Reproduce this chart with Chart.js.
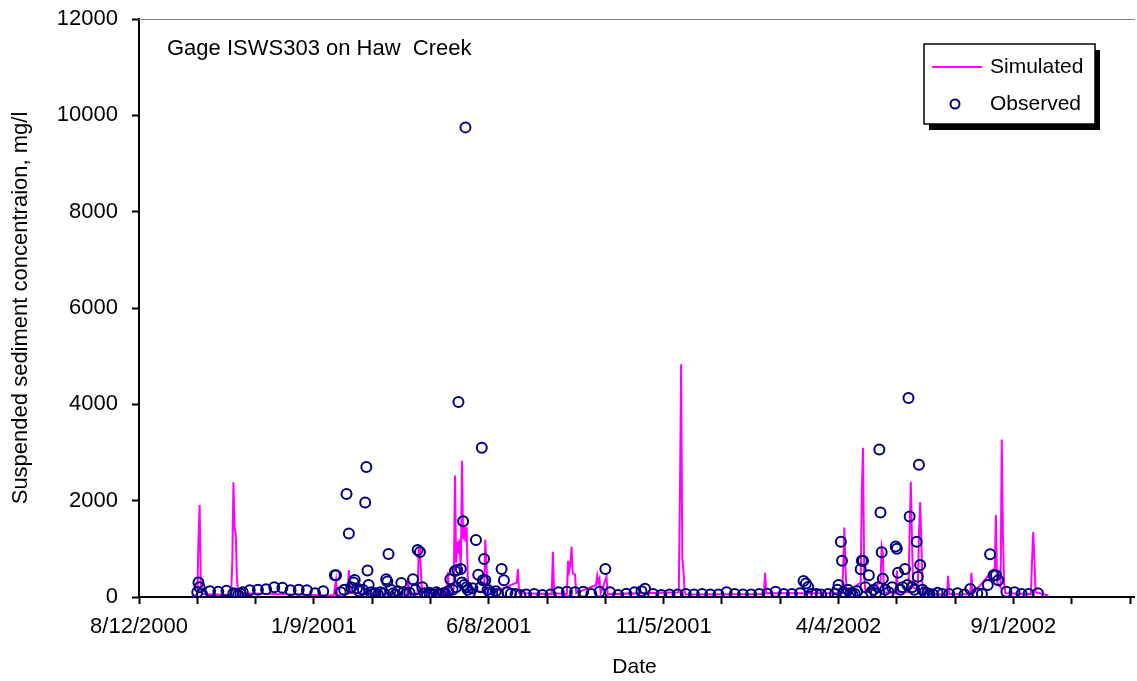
<!DOCTYPE html>
<html>
<head>
<meta charset="utf-8">
<script src="https://cdn.jsdelivr.net/npm/chart.js@4.4.0/dist/chart.umd.min.js"></script>
<style>
  html, body { margin: 0; padding: 0; background: #fff; }
  #wrap { width: 1137px; height: 681px; position: relative; }
</style>
</head>
<body>
<div id="wrap"><canvas id="chart"></canvas></div>
<script>
// axis starts 8/12/2000, ticks every 50 days, labels every 150
const axisStart = "2000-08-12";
const axisDays = 850;

const simDates = [
  "2000-09-27", "2000-10-01", "2000-10-02", "2000-10-03", "2000-10-04", "2000-10-05",
  "2000-10-30", "2000-10-31", "2000-11-01", "2000-11-02", "2000-11-03", "2000-11-04", "2000-11-05",
  "2001-01-26", "2001-01-28", "2001-01-29", "2001-02-07", "2001-02-08", "2001-02-09",
  "2001-03-30", "2001-03-31", "2001-04-01", "2001-04-08", "2001-04-09", "2001-04-10", "2001-04-11", "2001-04-12",
  "2001-05-03", "2001-05-04", "2001-05-05", "2001-05-08", "2001-05-09", "2001-05-10", "2001-05-11",
  "2001-05-12", "2001-05-13", "2001-05-14", "2001-05-15", "2001-05-16", "2001-05-17", "2001-05-18",
  "2001-05-19", "2001-05-20", "2001-05-21", "2001-05-22",
  "2001-06-04", "2001-06-05", "2001-06-06", "2001-06-07", "2001-06-08",
  "2001-07-02", "2001-07-03", "2001-07-04", "2001-08-01", "2001-08-02", "2001-08-03",
  "2001-08-14", "2001-08-15", "2001-08-16", "2001-08-17", "2001-08-18", "2001-08-19", "2001-08-20",
  "2001-08-21", "2001-08-22",
  "2001-09-08", "2001-09-09", "2001-09-10", "2001-09-11", "2001-09-12", "2001-09-16", "2001-09-17", "2001-09-18",
  "2001-11-18", "2001-11-19", "2001-11-20", "2001-11-21", "2001-11-22", "2001-11-23", "2001-11-24",
  "2002-01-30", "2002-01-31", "2002-02-01",
  "2002-04-07", "2002-04-08", "2002-04-09", "2002-04-10", "2002-04-11",
  "2002-04-23", "2002-04-24", "2002-04-25", "2002-04-26", "2002-04-27",
  "2002-05-10", "2002-05-11", "2002-05-12", "2002-05-13", "2002-05-23", "2002-05-24", "2002-05-25",
  "2002-06-03", "2002-06-04", "2002-06-05", "2002-06-06", "2002-06-07",
  "2002-06-11", "2002-06-12", "2002-06-13", "2002-06-14", "2002-06-15", "2002-06-16",
  "2002-07-06", "2002-07-07", "2002-07-08", "2002-07-26", "2002-07-27", "2002-07-28",
  "2002-08-16", "2002-08-17", "2002-08-18", "2002-08-21", "2002-08-22", "2002-08-23", "2002-08-24", "2002-08-25",
  "2002-09-16", "2002-09-17", "2002-09-18", "2002-09-19", "2002-09-20", "2002-10-01"
];
const simValues = [
  20, 50, 1150, 1910, 300, 60,
  40, 700, 2380, 1450, 1300, 400, 80,
  30, 350, 40, 60, 560, 80,
  40, 400, 60, 80, 1040, 1000, 400, 100,
  50, 520, 60, 60, 200, 2520, 700,
  1150, 900, 1200, 500, 2830, 1200, 1500,
  1150, 1450, 400, 150,
  100, 1190, 700, 150, 60,
  300, 580, 80, 60, 940, 80,
  60, 750, 550, 700, 1040, 500, 480,
  460, 80,
  250, 440, 300, 380, 80, 350, 420, 60,
  100, 2200, 4830, 800, 550, 100, 50,
  60, 500, 80,
  80, 600, 1440, 600, 100,
  300, 2200, 3100, 500, 100,
  300, 1040, 900, 100, 80, 550, 100,
  100, 1400, 2390, 1200, 200,
  150, 1300, 1970, 1200, 200, 60,
  50, 440, 60, 50, 500, 60,
  600, 1700, 300, 200, 3270, 1330, 300, 80,
  60, 770, 1350, 800, 100, 30
];

const obsDates = [
  "2000-10-01", "2000-10-02", "2000-10-03", "2000-10-05", "2000-10-12", "2000-10-19", "2000-10-26",
  "2000-11-01", "2000-11-03", "2000-11-05", "2000-11-07", "2000-11-09", "2000-11-15", "2000-11-22", "2000-11-29",
  "2000-12-06", "2000-12-13", "2000-12-20", "2000-12-27",
  "2001-01-03", "2001-01-10", "2001-01-17", "2001-01-27", "2001-01-28",
  "2001-02-01", "2001-02-04", "2001-02-06", "2001-02-08", "2001-02-10", "2001-02-12", "2001-02-13",
  "2001-02-15", "2001-02-17", "2001-02-20", "2001-02-22", "2001-02-23", "2001-02-24", "2001-02-25", "2001-02-27",
  "2001-03-01", "2001-03-03", "2001-03-05", "2001-03-07", "2001-03-10", "2001-03-12", "2001-03-13", "2001-03-14",
  "2001-03-16", "2001-03-18", "2001-03-20", "2001-03-22", "2001-03-25", "2001-03-27", "2001-03-29",
  "2001-04-01", "2001-04-04", "2001-04-06", "2001-04-08", "2001-04-10", "2001-04-12", "2001-04-14", "2001-04-16",
  "2001-04-18", "2001-04-20", "2001-04-22", "2001-04-24", "2001-04-26", "2001-04-28", "2001-04-30",
  "2001-05-02", "2001-05-04", "2001-05-06", "2001-05-08", "2001-05-10", "2001-05-11", "2001-05-12", "2001-05-13",
  "2001-05-15", "2001-05-16", "2001-05-17", "2001-05-18", "2001-05-19", "2001-05-20", "2001-05-21", "2001-05-23",
  "2001-05-25", "2001-05-28", "2001-05-30",
  "2001-06-01", "2001-06-02", "2001-06-03", "2001-06-04", "2001-06-05", "2001-06-07", "2001-06-09", "2001-06-11",
  "2001-06-14", "2001-06-16", "2001-06-19", "2001-06-21", "2001-06-24", "2001-06-27",
  "2001-07-01", "2001-07-05", "2001-07-10", "2001-07-17", "2001-07-24", "2001-07-31",
  "2001-08-07", "2001-08-14", "2001-08-21", "2001-08-28", "2001-09-04", "2001-09-11", "2001-09-16", "2001-09-20",
  "2001-09-27", "2001-10-04", "2001-10-11", "2001-10-17", "2001-10-20", "2001-10-27",
  "2001-11-03", "2001-11-10", "2001-11-17", "2001-11-24", "2001-12-01", "2001-12-08", "2001-12-15", "2001-12-22",
  "2001-12-29", "2002-01-05", "2002-01-12", "2002-01-19", "2002-01-26", "2002-02-02", "2002-02-09", "2002-02-16",
  "2002-02-23", "2002-03-02", "2002-03-05", "2002-03-07", "2002-03-09", "2002-03-12", "2002-03-16", "2002-03-20",
  "2002-03-26", "2002-04-01", "2002-04-03", "2002-04-04", "2002-04-06", "2002-04-07", "2002-04-08", "2002-04-10",
  "2002-04-12", "2002-04-14", "2002-04-16", "2002-04-18", "2002-04-20", "2002-04-23", "2002-04-24", "2002-04-25",
  "2002-04-27", "2002-04-30", "2002-05-02", "2002-05-04", "2002-05-06", "2002-05-08", "2002-05-09", "2002-05-10",
  "2002-05-11", "2002-05-12", "2002-05-14", "2002-05-17", "2002-05-20", "2002-05-23", "2002-05-24", "2002-05-25",
  "2002-05-27", "2002-05-29", "2002-05-31", "2002-06-02", "2002-06-03", "2002-06-04", "2002-06-06", "2002-06-08",
  "2002-06-10", "2002-06-11", "2002-06-12", "2002-06-13", "2002-06-15", "2002-06-17", "2002-06-19", "2002-06-21",
  "2002-06-24", "2002-06-28", "2002-07-02", "2002-07-08", "2002-07-15", "2002-07-21", "2002-07-26",
  "2002-08-01", "2002-08-05", "2002-08-10", "2002-08-12", "2002-08-15", "2002-08-17", "2002-08-19", "2002-08-26",
  "2002-09-02", "2002-09-08", "2002-09-14", "2002-09-22"
];
const obsValues = [
  100, 300, 200, 60, 120, 110, 130,
  80, 60, 40, 70, 100, 140, 150, 160,
  200, 190, 140, 150,
  140, 80, 120, 450, 450,
  100, 150, 2140, 1320, 200, 300, 354,
  180, 120, 150, 1960, 2700, 548, 250, 100,
  60, 80, 50, 100, 80, 368, 320, 894,
  150, 80, 50, 120, 290, 100, 60,
  90, 368, 150, 977, 936, 200, 80, 50,
  90, 60, 40, 100, 70, 50, 80,
  60, 120, 370, 150, 540, 200, 560, 4050,
  580, 300, 1575, 250, 9750, 200, 150, 100,
  180, 1185, 460,
  200, 3100, 350, 790, 350, 150, 100, 80,
  120, 60, 580, 350, 100, 70,
  60, 40, 50, 60, 40, 50,
  100, 110, 100, 110, 60, 110, 580, 100,
  40, 70, 100, 120, 170, 60,
  40, 50, 50, 60, 50, 60, 50, 50,
  100, 60, 50, 50, 60, 70, 110, 60,
  60, 80, 330, 280, 210, 70, 60, 50,
  60, 70, 150, 250, 1145, 755, 100, 60,
  150, 80, 50, 60, 120, 575, 755, 755,
  200, 450, 100, 150, 80, 200, 3060, 1755,
  930, 380, 150, 100, 200, 1050, 1000, 505,
  150, 200, 580, 250, 4130, 1670, 200, 150,
  1145, 420, 2745, 665, 150, 100, 80, 60,
  50, 90, 60, 60, 80, 50, 165,
  80, 60, 250, 888, 450, 450, 350, 110,
  100, 60, 60, 77
];

const FONT = '"Liberation Sans", Arial, Helvetica, sans-serif';
const DAY = 86400000;

function toUTC(s) {
  const [y, m, d] = s.split("-").map(Number);
  return Date.UTC(y, m - 1, d);
}
const base = toUTC(axisStart);
const dayNo = (s) => (toUTC(s) - base) / DAY;

function fmtDate(v) {
  const d = new Date(base + v * DAY);
  return (d.getUTCMonth() + 1) + "/" + d.getUTCDate() + "/" + d.getUTCFullYear();
}

const simPts = simDates.map((d, i) => ({ x: dayNo(d), y: simValues[i] }));
const obsPts = obsDates.map((d, i) => ({ x: dayNo(d), y: obsValues[i] }));

// gage label, plot top border and the boxed legend with its shadow
const decor = {
  id: "decor",
  afterDraw(chart) {
    const { ctx, chartArea: a } = chart;
    const sim = chart.data.datasets[0];
    const obs = chart.data.datasets[1];
    ctx.save();

    ctx.strokeStyle = "#808080";
    ctx.lineWidth = 1;
    ctx.beginPath();
    ctx.moveTo(a.left, a.top + 0.5);
    ctx.lineTo(a.right + 5, a.top + 0.5);
    ctx.stroke();

    ctx.fillStyle = "#000";
    ctx.font = "22px " + FONT;
    ctx.textBaseline = "middle";
    ctx.textAlign = "left";
    ctx.fillText("Gage ISWS303 on Haw  Creek", a.left + 28, a.top + 30);

    const bx = a.right - 206, by = a.top + 25, bw = 171, bh = 80;
    ctx.fillStyle = "#000";
    ctx.fillRect(bx + 5, by + 6, bw, bh);
    ctx.fillStyle = "#fff";
    ctx.fillRect(bx, by, bw, bh);
    ctx.strokeStyle = "#000";
    ctx.lineWidth = 1.5;
    ctx.strokeRect(bx, by, bw, bh);

    ctx.strokeStyle = sim.borderColor;
    ctx.lineWidth = 2;
    ctx.beginPath();
    ctx.moveTo(bx + 8, by + 23);
    ctx.lineTo(bx + 58, by + 23);
    ctx.stroke();

    ctx.strokeStyle = obs.borderColor;
    ctx.lineWidth = 2;
    ctx.beginPath();
    ctx.arc(bx + 31, by + 60, 4.5, 0, Math.PI * 2);
    ctx.stroke();

    ctx.fillStyle = "#000";
    ctx.font = "21px " + FONT;
    ctx.fillText(sim.label, bx + 66, by + 23);
    ctx.fillText(obs.label, bx + 66, by + 60);

    // x axis line runs on a little past the last tick
    ctx.strokeStyle = "#000";
    ctx.lineWidth = 2;
    ctx.beginPath();
    ctx.moveTo(a.right, a.bottom);
    ctx.lineTo(a.right + 5, a.bottom);
    ctx.stroke();
    ctx.restore();
  }
};

const tickFont = { family: FONT, size: 22 };

new Chart(document.getElementById("chart").getContext("2d"), {
  type: "scatter",
  data: {
    datasets: [
      {
        label: "Simulated",
        data: simPts,
        showLine: true,
        borderColor: "#FF00FF",
        borderWidth: 2,
        pointRadius: 0,
        tension: 0,
        order: 1,
      },
      {
        label: "Observed",
        data: obsPts,
        showLine: false,
        borderColor: "#000080",
        backgroundColor: "rgba(0,0,0,0)",
        pointRadius: 5,
        pointBorderWidth: 2,
        order: 0,
      },
    ],
  },
  options: {
    responsive: true,
    maintainAspectRatio: false,
    animation: false,
    layout: { padding: { left: 0, right: 5, top: 19, bottom: 0 } },
    plugins: { legend: { display: false }, tooltip: { enabled: false } },
    scales: {
      x: {
        type: "linear",
        min: 0,
        max: axisDays,
        afterFit: (s) => { s.height = 84; s.paddingLeft = 0; s.paddingRight = 0; },
        ticks: {
          stepSize: 50,
          autoSkip: false,
          maxRotation: 0,
          padding: 10,
          color: "#000",
          font: tickFont,
          callback: (v) => (v % 150 === 0 ? fmtDate(v) : ""),
        },
        grid: { drawOnChartArea: false, tickLength: 7, tickWidth: 2, tickColor: "#000" },
        border: { color: "#000", width: 2 },
        title: { display: true, text: "Date", color: "#000", font: { family: FONT, size: 21 }, padding: { top: 4, bottom: 1 } },
      },
      y: {
        min: 0,
        max: 12000,
        afterFit: (s) => { s.width = 139; s.paddingTop = 0; s.paddingBottom = 0; },
        ticks: { stepSize: 2000, padding: 14, color: "#000", font: tickFont, callback: (v) => String(v) },
        grid: { drawOnChartArea: false, tickLength: 7, tickWidth: 2, tickColor: "#000" },
        border: { color: "#000", width: 2 },
        title: {
          display: true,
          text: "Suspended sediment concentraion, mg/l",
          color: "#000",
          font: { family: FONT, size: 22 },
          padding: { top: 8, bottom: 4 },
        },
      },
    },
  },
  plugins: [decor],
});
</script>
</body>
</html>
